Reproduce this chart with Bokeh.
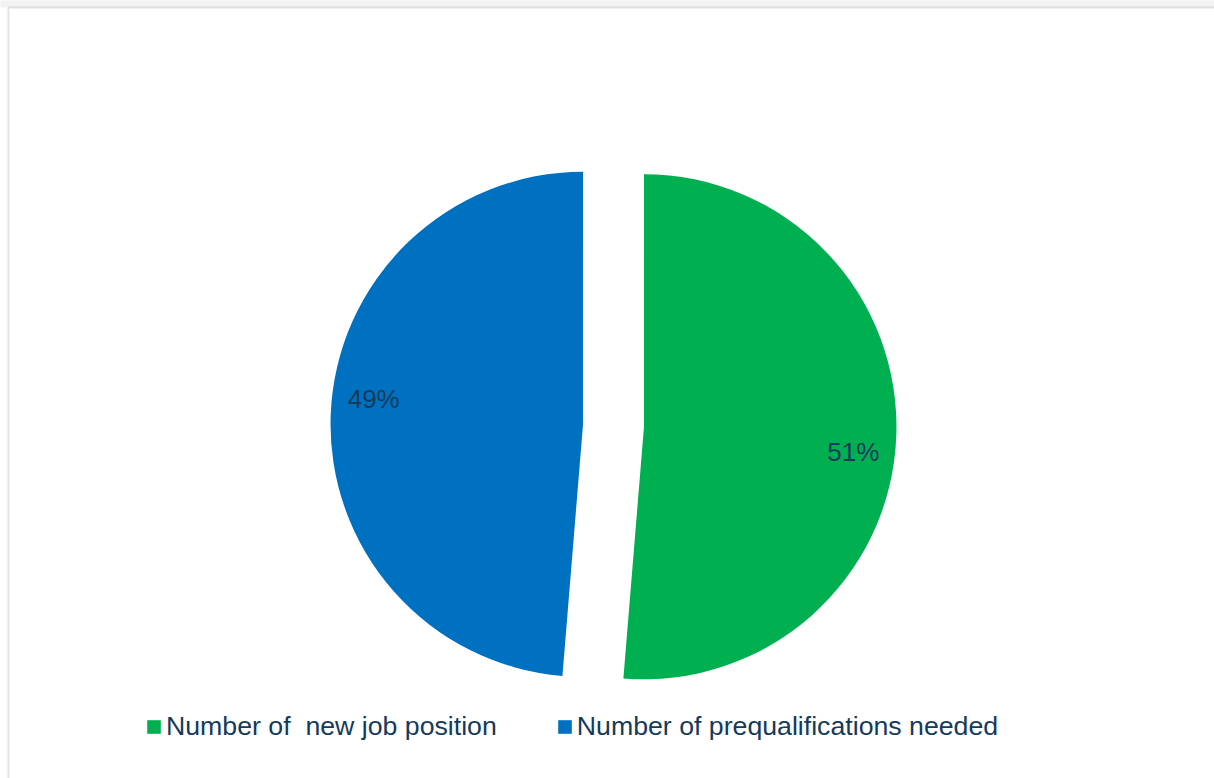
import math
from bokeh.plotting import figure
from bokeh.models import ColumnDataSource, Range1d, Legend, LegendItem, BoxAnnotation
from bokeh.embed import file_html
from bokeh.resources import INLINE
from bokeh.core.properties import value

# ---- data ----
categories = ["Number of  new job position", "Number of prequalifications needed"]
shares = [51.3, 48.7]
colors = ["#00B050", "#0070C0"]

# ---- layout constants ----
W, H = 1214, 778
CX, CY = 613, H - 425      # pie centre (data units = pixels)
R = 252.5                  # radius
EXPLODE = 30.5             # slice explosion
LABEL_R = 0.835            # label radial position
LABEL_SHIFT = math.radians(4.5)
TEXT_COLOR = "#143a5c"
FONT = "Liberation Sans"

total = float(sum(shares))
pct_labels = ["%d%%" % round(100 * s / total) for s in shares]
starts, ends, xs, ys, lx, ly = [], [], [], [], [], []
a = math.pi / 2
for s in shares:
    sweep = 2 * math.pi * s / total
    st, en = a, a - sweep
    mid = (st + en) / 2
    x0 = CX + EXPLODE * math.cos(mid)
    y0 = CY + EXPLODE * math.sin(mid)
    starts.append(st)
    ends.append(en)
    xs.append(x0)
    ys.append(y0)
    la = mid - LABEL_SHIFT
    lx.append(x0 + LABEL_R * R * math.cos(la))
    ly.append(y0 + LABEL_R * R * math.sin(la))
    a = en

p = figure(width=W, height=H, output_backend="svg", toolbar_location=None,
           x_range=Range1d(0, W), y_range=Range1d(0, H),
           x_axis_type=None, y_axis_type=None, min_border=0,
           outline_line_color=None, background_fill_color="white",
           border_fill_color="white")
p.grid.visible = False

# frame decoration: light band at top and grey frame line
p.add_layout(BoxAnnotation(bottom=H - 7, top=H + 10, left=-10, right=W + 10,
                           fill_color="#f2f2f2", fill_alpha=1, line_color=None))
p.add_layout(BoxAnnotation(left=8, right=W + 50, top=H - 7, bottom=-50,
                           fill_alpha=0, line_color="#a6a6a6", line_width=2))

renderers = []
for i in range(len(shares)):
    src = ColumnDataSource(dict(x=[xs[i]], y=[ys[i]], s=[starts[i]], e=[ends[i]]))
    r = p.wedge(x="x", y="y", radius=R, start_angle="s", end_angle="e",
                direction="clock", fill_color=colors[i], line_color=None, source=src)
    renderers.append(r)

lab_src = ColumnDataSource(dict(x=lx, y=ly, t=pct_labels))
p.text(x="x", y="y", text="t", source=lab_src, text_align="center",
       text_baseline="middle", text_font=value(FONT), text_font_size="26px",
       text_color=TEXT_COLOR)

legend = Legend(items=[LegendItem(label=categories[i], renderers=[renderers[i]])
                       for i in range(len(categories))],
                orientation="horizontal", location=(145, 36),
                label_text_font=FONT, label_text_font_size="26.7px",
                label_text_color=TEXT_COLOR, glyph_width=17, glyph_height=17,
                label_standoff=4, spacing=59, padding=0, margin=0,
                border_line_alpha=0, background_fill_alpha=0)
p.add_layout(legend)

open("out.html", "w").write(file_html(p, INLINE))
